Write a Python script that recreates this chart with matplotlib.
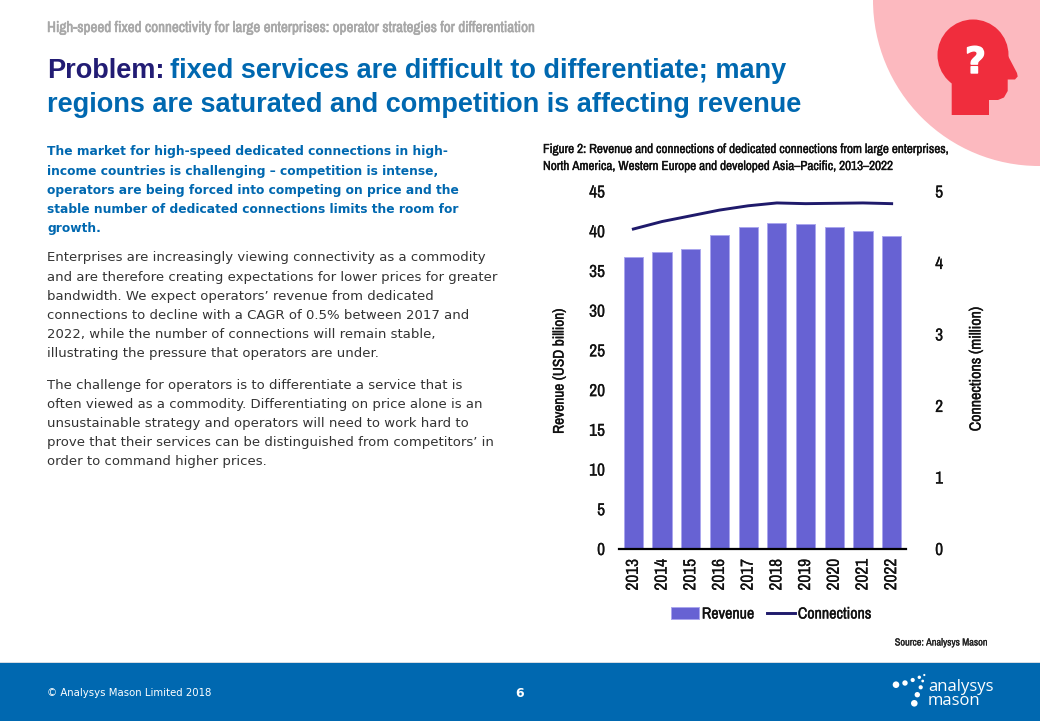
import matplotlib
matplotlib.use("Agg")
import logging
logging.getLogger("matplotlib.font_manager").setLevel(logging.ERROR)
import matplotlib.pyplot as plt
import matplotlib.patheffects as pe
from matplotlib.patches import Circle, Polygon, Rectangle

years = ["2013", "2014", "2015", "2016", "2017", "2018", "2019", "2020", "2021", "2022"]
revenue = [36.7, 37.4, 37.7, 39.5, 40.5, 41.0, 40.85, 40.5, 40.05, 39.4]
connections = [4.475, 4.58, 4.66, 4.74, 4.80, 4.84, 4.83, 4.835, 4.84, 4.83]
rev_ticks = [0, 5, 10, 15, 20, 25, 30, 35, 40, 45]
conn_ticks = [0, 1, 2, 3, 4, 5]

header = "High-speed fixed connectivity for large enterprises: operator strategies for differentiation"
title_a = "Problem:"
title_b = "fixed services are difficult to differentiate; many"
title_c = "regions are saturated and competition is affecting revenue"
lead = ["The market for high-speed dedicated connections in high-",
        "income countries is challenging – competition is intense,",
        "operators are being forced into competing on price and the",
        "stable number of dedicated connections limits the room for",
        "growth."]
para1 = ["Enterprises are increasingly viewing connectivity as a commodity",
         "and are therefore creating expectations for lower prices for greater",
         "bandwidth. We expect operators’ revenue from dedicated",
         "connections to decline with a CAGR of 0.5% between 2017 and",
         "2022, while the number of connections will remain stable,",
         "illustrating the pressure that operators are under."]
para2 = ["The challenge for operators is to differentiate a service that is",
         "often viewed as a commodity. Differentiating on price alone is an",
         "unsustainable strategy and operators will need to work hard to",
         "prove that their services can be distinguished from competitors’ in",
         "order to command higher prices."]
fig_title = ["Figure 2: Revenue and connections of dedicated connections from large enterprises,",
             "North America, Western Europe and developed Asia–Pacific, 2013–2022"]

W, H = 1040, 721
BLUE = "#0068b0"
NAVY = "#1f1a6b"
NARROW = ["Archivo Narrow", "Liberation Sans Narrow", "Roboto Condensed", "DejaVu Sans"]
HEAD = ["Liberation Sans", "DejaVu Sans"]


def heavy(color, w=0.25):
    return [pe.withStroke(linewidth=w, foreground=color)]


fig = plt.figure(figsize=(W / 100, H / 100), dpi=100, facecolor="white")

bg = fig.add_axes([0, 0, 1, 1], zorder=0)
bg.set_xlim(0, W)
bg.set_ylim(H, 0)
bg.axis("off")

# decoration
bg.add_patch(Circle((1039, 0), 166, fc="#fcb9bf", ec="none"))
RED = "#f02d3d"
bg.add_patch(Circle((973, 55), 35.5, fc=RED, ec="none"))
bg.add_patch(Polygon([(951.7, 80), (951.7, 115), (989, 115), (989, 100), (998, 100),
                      (1004, 97.5), (1007.7, 91), (1007.7, 79.5), (1015, 79.5),
                      (1017.7, 76.5), (1017, 73), (1006, 52), (973, 40)],
                     closed=True, fc=RED, ec="none"))
bg.text(975.5, 63, "?", color="white", fontsize=26, fontweight="bold",
        family="DejaVu Sans", ha="center", va="center", path_effects=heavy("white", 1.0))

bg.add_patch(Rectangle((0, 663), W, 58, fc=BLUE, ec="none"))
bg.add_patch(Rectangle((0, 661.5), W, 1.5, fc="#d5dbe3", ec="none"))
for x, y, r in [(896, 684.7, 3.3), (905, 683, 2.7), (912.7, 680, 2.1), (919.3, 677.3, 1.7),
                (924.3, 675, 1.1), (922.7, 681, 1.4), (920.7, 687.3, 2.1), (917.3, 694.7, 2.7),
                (914.3, 703.3, 3.3)]:
    bg.add_patch(Circle((x, y), r, fc="white", ec="none"))
bg.text(928, 687, "analysys", color="white", fontsize=12, family="Open Sans", va="center")
bg.text(928, 701, "mason", color="white", fontsize=12, family="Open Sans", va="center")

# text
bg.text(47, 28, header, color="#a8a8a8", fontsize=10.9, fontweight="bold",
        family=NARROW, va="center", path_effects=heavy("#a8a8a8", 0.4))
bg.text(47, 71, title_a, color="#221c74", fontsize=19.5, fontweight="bold",
        family=HEAD, va="center")
bg.text(170, 71, title_b, color=BLUE, fontsize=19.5, fontweight="bold",
        family=HEAD, va="center")
bg.text(47, 104.5, title_c, color=BLUE, fontsize=19.5, fontweight="bold",
        family=HEAD, va="center")

for i, s in enumerate(lead):
    bg.text(47, 152 + i * 19.2, s, color=BLUE, fontsize=8.8, fontweight="bold",
            family="DejaVu Sans", va="center")
for i, s in enumerate(para1):
    bg.text(47, 258 + i * 19.2, s, color="#333333", fontsize=9.5,
            family="DejaVu Sans", va="center")
for i, s in enumerate(para2):
    bg.text(47, 385 + i * 19.2, s, color="#333333", fontsize=9.5,
            family="DejaVu Sans", va="center")
for i, s in enumerate(fig_title):
    bg.text(543, 149.5 + i * 17, s, color="#111111", fontsize=9.45, fontweight="bold",
            family=NARROW, va="center", path_effects=heavy("#111111"))
bg.text(987.5, 642.5, "Source: Analysys Mason", color="#222222", fontsize=7.4, fontweight="bold",
        family=NARROW, ha="right", va="center", path_effects=heavy("#222222", 0.15))
bg.text(47, 693.5, "© Analysys Mason Limited 2018", color="white", fontsize=7.3,
        family="DejaVu Sans", va="center")
bg.text(520, 693.5, "6", color="white", fontsize=9, fontweight="bold",
        family="DejaVu Sans", ha="center", va="center")
bg.text(559.5, 371, "Revenue (USD billion)", color="#111111", fontsize=11, family=NARROW,
        fontweight="bold", rotation=90, ha="center", va="center", path_effects=heavy("#111111"))
bg.text(976, 369, "Connections (million)", color="#111111", fontsize=11.5, family=NARROW,
        fontweight="bold", rotation=90, ha="center", va="center", path_effects=heavy("#111111"))

# chart
L, R, B, T = 619, 906, 549, 191.5
ax = fig.add_axes([L / W, 1 - B / H, (R - L) / W, (B - T) / H], zorder=2)
ax.patch.set_alpha(0)
pos = list(range(len(years)))
bars = ax.bar(pos, revenue, width=0.67, color="#6762d3", edgecolor="#aaa6ee", linewidth=0.7,
              label="Revenue")
ax.set_xlim(-0.5, len(years) - 0.5)
ax.set_ylim(0, 45)
ax.set_yticks(rev_ticks)
ax.set_xticks(pos)
ax.set_xticklabels(years, rotation=90)
for s in ["top", "left", "right"]:
    ax.spines[s].set_visible(False)
ax.spines["bottom"].set_linewidth(1.6)
ax.spines["bottom"].set_color("black")
ax.tick_params(axis="y", length=0, pad=10, labelsize=12.5, labelcolor="#111111")
ax.tick_params(axis="x", length=0, pad=7, labelsize=12.5, labelcolor="#111111")

ax2 = ax.twinx()
ax2.patch.set_alpha(0)
line, = ax2.plot(pos, connections, color=NAVY, lw=2.1, label="Connections")
ax2.set_ylim(0, 5)
ax2.set_yticks(conn_ticks)
for s in ax2.spines.values():
    s.set_visible(False)
ax2.tick_params(axis="y", length=0, pad=21, labelsize=12.5, labelcolor="#111111")

for lab in ax.get_xticklabels() + ax.get_yticklabels() + ax2.get_yticklabels():
    lab.set_family(NARROW)
    lab.set_fontweight("bold")
    lab.set_path_effects(heavy("#111111", 0.15))

leg = fig.legend([bars, line], ["Revenue", "Connections"], ncol=2, frameon=False,
                 loc="center", bbox_to_anchor=(771 / W, 1 - 614 / H),
                 prop={"family": NARROW, "size": 11.5, "weight": "bold"},
                 handlelength=1.75, handleheight=0.7, handletextpad=0.2, columnspacing=0.8,
                 borderpad=0, labelcolor="#111111")
for t in leg.get_texts():
    t.set_path_effects(heavy("#111111"))

fig.savefig("out.png", dpi=100)
